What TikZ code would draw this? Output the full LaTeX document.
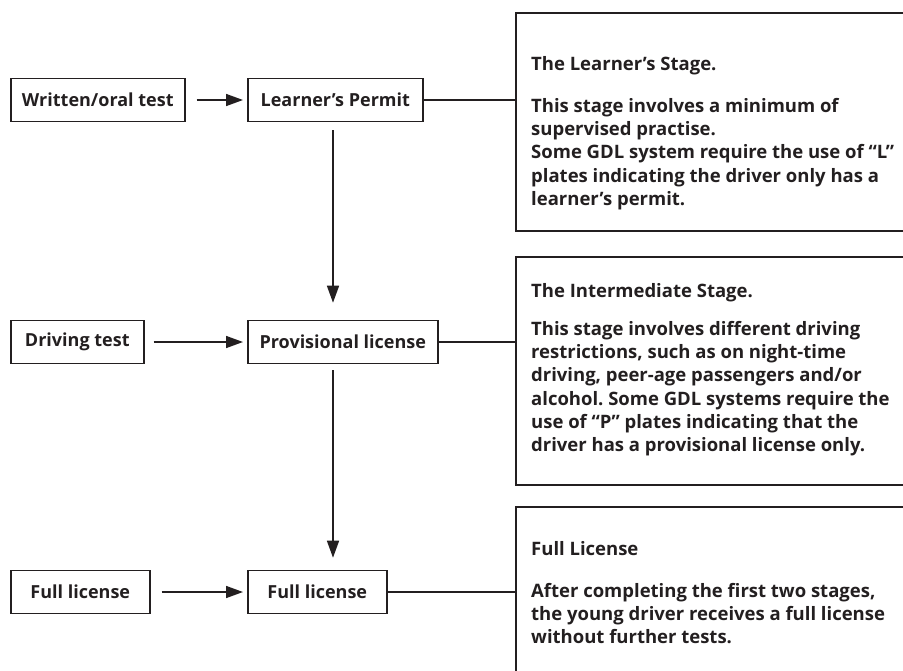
\documentclass[tikz,border=0pt]{standalone}
\usepackage{fontspec}
\setmainfont{Open Sans}
\frenchspacing
\usetikzlibrary{arrows.meta, positioning}
\definecolor{ink}{RGB}{35,31,32}
\tikzstyle{box} = [rectangle, draw = ink, line width = 1.6pt, minimum height = 43,
  inner sep = 0, anchor = west, text = ink,
  font = \fontsize{18}{21}\selectfont\bfseries]
\tikzstyle{panel} = [
  rectangle, draw = ink, line width = 1.6pt,
  anchor = north west, inner sep = 0
]
\tikzstyle{note} = [anchor = north west, align = left, inner sep = 0, text = ink,
  font = \fontsize{18.5}{23.3}\selectfont\bfseries]
\tikzstyle{go} = [-{Triangle[length = 17pt, width = 12pt]}, draw = ink, line width = 1.6pt]
\tikzstyle{tie} = [draw = ink, line width = 1.6pt]

\begin{document}
\begin{tikzpicture}[x = 1pt, y = -1pt]
      \useasboundingbox (0, 0) rectangle (903, 670);
      \clip (0, 0) rectangle (903, 670);
      % tests
      \node [box, minimum width = 174] (written) at (10, 100) {Written/oral test};
      \node [box, minimum width = 133] (driving) at (10, 342) {Driving test};
      \node [box, minimum width = 139] (fulltest) at (10, 592) {Full license};
      % licences
      \node [box, minimum width = 175] (learner) at (247, 100) {Learner’s Permit};
      \node [box, minimum width = 190] (provisional) at (247, 342) {Provisional license};
      \node [box, minimum width = 139] (full) at (247, 592) {Full license};
      % stages
      \node [panel, minimum width = 420, minimum height = 218] (stage-1) at (515, 12) {};
      \node [panel, minimum width = 420, minimum height = 228] (stage-2) at (515, 256) {};
      \node [panel, minimum width = 420, minimum height = 220] (stage-3) at (515, 506) {};
      \node [note] (text-1) at (531, 56) {The Learner’s Stage.\\[18.7pt]
        This stage involves a minimum of\\
        supervised practise.\\
        Some GDL system require the use of “L”\\
        plates indicating the driver only has a\\
        learner’s permit.};
      \node [note] (text-2) at (531, 283) {The Intermediate Stage.\\[14.7pt]
        This stage involves different driving\\
        restrictions, such as on night-time\\
        driving, peer-age passengers and/or\\
        alcohol. Some GDL systems require the\\
        use of “P” plates indicating that the\\
        driver has a provisional license only.};
      \node [note] (text-3) at (531, 541) {Full License\\[18.7pt]
        After completing the first two stages,\\
        the young driver receives a full license\\
        without further tests.};
      \coordinate (spine) at (333, 0);

      \draw [go, shorten <= 11pt, shorten >= 4pt] (written) -- (learner);
      \draw [go, shorten <= 9pt, shorten >= 4pt] (driving) -- (provisional);
      \draw [go, shorten <= 11pt, shorten >= 4pt] (fulltest) -- (full);
      \draw [go, shorten <= 8pt, shorten >= 17pt] (learner.south -| spine) -- (provisional.north -| spine);
      \draw [go, shorten <= 6pt, shorten >= 12pt] (provisional.south -| spine) -- (full.north -| spine);
      \draw [tie] (learner.east) -- (learner.east -| stage-1.west);
      \draw [tie] (provisional.east) -- (provisional.east -| stage-2.west);
      \draw [tie] (full.east) -- (full.east -| stage-3.west);
    \end{tikzpicture}
\end{document}
